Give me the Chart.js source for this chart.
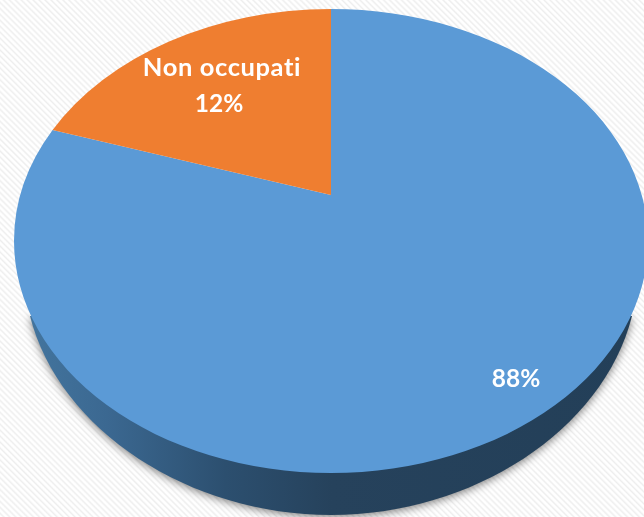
<!DOCTYPE html>
<html>
<head>
<meta charset="utf-8">
<style>
html,body{margin:0;padding:0;width:644px;height:517px;overflow:hidden;background:#fff;
background-image:repeating-linear-gradient(45deg,#ffffff 0px,#ffffff 1.2px,#eeeeee 2.6px,#ffffff 4.2px);}
canvas{display:block}
</style>
<script src="https://cdn.jsdelivr.net/npm/chart.js@4/dist/chart.umd.min.js"></script>
</head>
<body>
<canvas id="c" width="644" height="517"></canvas>
<script>
const sliceNames = ['', 'Non occupati'];
const sliceValues = [88, 12];
const sliceColors = ['#5b9ad6', '#ef7e30'];

const tilt = 232 / 317;      // ellipse height / width
const apexLift = 46;         // perspective: apex sits above ellipse centre
const rimBias = 0.385;       // perspective stretch of the far rim
const labelSpots = [[[516, 379]], [[222, 68], [219, 104]]];

function rimAngle(a) {
  const x = Math.cos(a), y = Math.sin(a), d = 1 + rimBias * y;
  return Math.atan2((y + rimBias) / d, x * Math.sqrt(1 - rimBias * rimBias) / d);
}

const pie3d = {
  id: 'pie3d',
  beforeDatasetsDraw(chart) {
    const ctx = chart.ctx, arcs = chart.getDatasetMeta(0).data;
    const cx = arcs[0].x, cy = arcs[0].y, rx = arcs[0].outerRadius, ry = rx * tilt;

    // side wall with soft shadow
    const g = ctx.createLinearGradient(20, 0, 644, 0);
    g.addColorStop(0, '#44769f');
    g.addColorStop(0.14, '#3b6891');
    g.addColorStop(0.33, '#2c4f6f');
    g.addColorStop(0.5, '#26425c');
    g.addColorStop(1, '#233f58');
    ctx.save();
    ctx.shadowColor = 'rgba(0,0,0,0.5)';
    ctx.shadowBlur = 9;
    ctx.shadowOffsetY = 2;
    ctx.fillStyle = g;
    ctx.beginPath();
    ctx.moveTo(cx - 301, cy + 75);
    ctx.bezierCurveTo(cx - 272, cy + 190, cx - 141, cy + 274, cx, cy + 274);
    ctx.bezierCurveTo(cx + 141, cy + 274, cx + 272, cy + 190, cx + 301, cy + 75);
    ctx.closePath();
    ctx.fill();
    ctx.restore();

    // top face
    arcs.forEach((arc, i) => {
      const t0 = rimAngle(arc.startAngle);
      let t1 = rimAngle(arc.endAngle);
      while (t1 <= t0) t1 += Math.PI * 2;
      ctx.beginPath();
      ctx.moveTo(cx, cy - apexLift);
      ctx.ellipse(cx, cy, rx, ry, 0, t0, t1, false);
      ctx.closePath();
      ctx.fillStyle = sliceColors[i];
      ctx.fill();
    });

    // labels
    ctx.save();
    ctx.fillStyle = '#ffffff';
    ctx.textAlign = 'center';
    ctx.textBaseline = 'middle';
    sliceValues.forEach((v, i) => {
      let k = 0;
      if (sliceNames[i]) {
        ctx.font = 'bold 25.5px Lato';
        ctx.letterSpacing = '0.6px';
        ctx.fillText(sliceNames[i], labelSpots[i][k][0], labelSpots[i][k][1]);
        k++;
      }
      ctx.font = 'bold 24.5px Lato';
      ctx.letterSpacing = '0px';
      ctx.fillText(v + '%', labelSpots[i][k][0], labelSpots[i][k][1]);
    });
    ctx.restore();
    return false;
  }
};

new Chart(document.getElementById('c'), {
  type: 'pie',
  data: {
    labels: sliceNames,
    datasets: [{ data: sliceValues, backgroundColor: sliceColors, borderWidth: 0, radius: 317 }]
  },
  options: {
    responsive: false,
    animation: false,
    layout: { padding: { left: 18, bottom: 35 } },
    plugins: { legend: { display: false }, tooltip: { enabled: false } }
  },
  plugins: [pie3d]
});
</script>
</body>
</html>
